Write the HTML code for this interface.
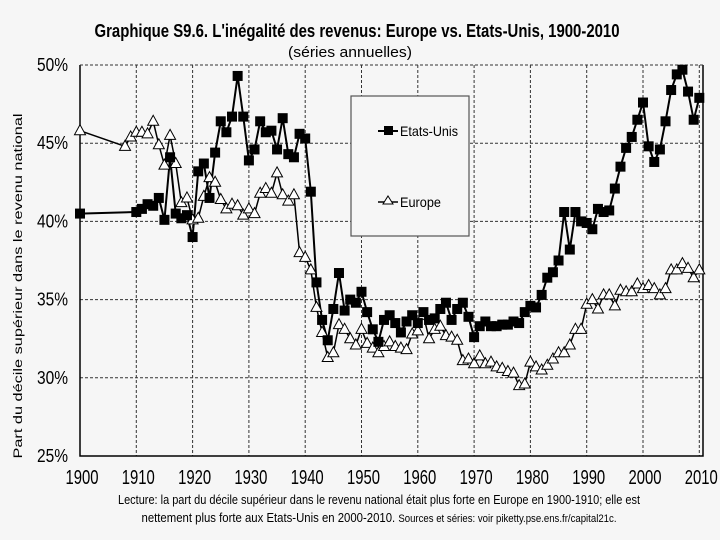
<!DOCTYPE html>
<html><head><meta charset="utf-8"><style>
html,body{margin:0;padding:0;background:#f6f6f6;}
svg{display:block;font-family:"Liberation Sans",sans-serif;}
</style></head><body>
<svg id="chart" width="720" height="540" viewBox="0 0 720 540">
<rect x="0" y="0" width="720" height="540" fill="#f6f6f6"/>
<text x="357" y="37" text-anchor="middle" font-weight="bold" font-size="18" textLength="525" lengthAdjust="spacingAndGlyphs">Graphique S9.6. L'inégalité des revenus: Europe vs. Etats-Unis, 1900-2010</text>
<text x="350" y="57" text-anchor="middle" font-size="15" textLength="124" lengthAdjust="spacingAndGlyphs">(séries annuelles)</text>
<text transform="translate(22,286) rotate(-90)" text-anchor="middle" font-size="11.5" textLength="345" lengthAdjust="spacingAndGlyphs">Part du décile supérieur dans le revenu national</text>
<g id="grid"></g>
<g id="axes"></g>
<g id="series"></g>
<g>
<rect x="351" y="96" width="118" height="140" fill="#f6f6f6" stroke="#555" stroke-width="1.2"/>
<g>
<line x1="378" y1="131" x2="398" y2="131" stroke="#000" stroke-width="2"/>
<rect x="384" y="126" width="9" height="9" fill="#000"/>
<text x="400" y="136" font-size="14" textLength="58" lengthAdjust="spacingAndGlyphs">Etats-Unis</text>
</g>
<g>
<line x1="378" y1="202" x2="398" y2="202" stroke="#000" stroke-width="1.5"/>
<polygon points="388,196 393,204 383,204" fill="#fff" stroke="#000" stroke-width="1"/>
<text x="400" y="207" font-size="14" textLength="41" lengthAdjust="spacingAndGlyphs">Europe</text>
</g>
</g>
<text x="379" y="504" text-anchor="middle" font-size="13" textLength="522" lengthAdjust="spacingAndGlyphs">Lecture: la part du décile supérieur dans le revenu national était plus forte en Europe en 1900-1910; elle est</text>
<text x="379" y="522" text-anchor="middle" font-size="13" textLength="475" lengthAdjust="spacingAndGlyphs">nettement plus forte aux Etats-Unis en 2000-2010. <tspan font-size="11">Sources et séries: voir piketty.pse.ens.fr/capital21c.</tspan></text>
</svg>
<script>
const usYears = [1900,1910,1911,1912,1913,1914,1915,1916,1917,1918,1919,1920,1921,1922,1923,1924,1925,1926,1927,1928,1929,1930,1931,1932,1933,1934,1935,1936,1937,1938,1939,1940,1941,1942,1943,1944,1945,1946,1947,1948,1949,1950,1951,1952,1953,1954,1955,1956,1957,1958,1959,1960,1961,1962,1963,1964,1965,1966,1967,1968,1969,1970,1971,1972,1973,1974,1975,1976,1977,1978,1979,1980,1981,1982,1983,1984,1985,1986,1987,1988,1989,1990,1991,1992,1993,1994,1995,1996,1997,1998,1999,2000,2001,2002,2003,2004,2005,2006,2007,2008,2009,2010];
const usValues = [40.5,40.6,40.8,41.1,41.0,41.5,40.1,44.1,40.5,40.2,40.4,39.0,43.2,43.7,41.5,44.4,46.4,45.7,46.7,49.3,46.7,43.9,44.6,46.4,45.7,45.8,44.6,46.6,44.3,44.1,45.6,45.3,41.9,36.1,33.7,32.4,34.4,36.7,34.3,35.0,34.8,35.5,34.2,33.1,32.3,33.7,34.0,33.5,32.9,33.6,34.0,33.5,34.2,33.7,33.8,34.4,34.8,33.7,34.4,34.8,33.9,32.6,33.3,33.6,33.3,33.3,33.4,33.4,33.6,33.5,34.2,34.6,34.5,35.3,36.4,36.75,37.5,40.6,38.2,40.6,40.0,39.9,39.5,40.8,40.6,40.7,42.1,43.5,44.7,45.4,46.5,47.6,44.8,43.8,44.6,46.4,48.4,49.4,49.7,48.3,46.5,47.9];
const euYears = [1900,1908,1909,1910,1911,1912,1913,1914,1915,1916,1917,1918,1919,1920,1921,1922,1923,1924,1925,1926,1927,1928,1929,1930,1931,1932,1933,1934,1935,1936,1937,1938,1939,1940,1941,1942,1943,1944,1945,1946,1947,1948,1949,1950,1951,1952,1953,1954,1955,1956,1957,1958,1959,1960,1961,1962,1963,1964,1965,1966,1967,1968,1969,1970,1971,1972,1973,1974,1975,1976,1977,1978,1979,1980,1981,1982,1983,1984,1985,1986,1987,1988,1989,1990,1991,1992,1993,1994,1995,1996,1997,1998,1999,2000,2001,2002,2003,2004,2005,2006,2007,2008,2009,2010];
const euValues = [45.8,44.8,45.4,45.7,45.7,45.6,46.4,44.9,43.6,45.5,43.7,41.2,41.5,40.1,40.2,41.6,42.8,42.5,41.4,40.8,41.1,41.0,40.4,40.8,40.5,41.8,42.1,41.8,43.1,41.7,41.3,41.7,38.0,37.7,36.9,34.5,32.9,31.3,31.6,33.4,33.1,32.5,32.1,33.1,32.2,31.9,31.6,32.0,32.3,32.0,31.9,31.8,32.8,33.0,34.0,32.5,33.1,33.3,32.7,32.6,32.4,31.1,31.2,30.9,31.4,30.9,31.0,30.7,30.6,30.4,30.3,29.5,29.6,31.0,30.7,30.5,30.8,31.2,31.6,31.6,32.1,33.1,33.1,34.7,35.0,34.4,35.3,35.3,34.6,35.6,35.5,35.5,36.0,35.7,35.9,35.7,35.3,35.7,36.9,36.9,37.3,37.0,36.4,36.9];
const xTicks = [1900,1910,1920,1930,1940,1950,1960,1970,1980,1990,2000,2010];
const yTicks = [25,30,35,40,45,50];

const NS="http://www.w3.org/2000/svg";
const L=80,R=703,T=65,B=456;
const x=y=>80+(y-1900)*5.63;
const yv=v=>T+(50-v)*(B-T)/25;
function mk(tag,attrs,parent){const e=document.createElementNS(NS,tag);for(const k in attrs)e.setAttribute(k,attrs[k]);parent.appendChild(e);return e;}
const grid=document.getElementById('grid'),axes=document.getElementById('axes'),series=document.getElementById('series');

yTicks.forEach(t=>{
  if(t>25){const g=mk('line',{x1:L,x2:R,y1:yv(t),y2:yv(t),stroke:'#333','stroke-width':1,'stroke-dasharray':'3,2'},grid);
  
  }
  const tx=mk('text',{x:68,y:yv(t)+6,'text-anchor':'end','font-size':18,textLength:31,lengthAdjust:'spacingAndGlyphs'},axes);
  tx.textContent=t+'%';
  
  
});
xTicks.forEach(t=>{
  if(t>1900){const g=mk('line',{x1:x(t),x2:x(t),y1:T,y2:B,stroke:'#333','stroke-width':1,'stroke-dasharray':'3,2'},grid);
  
  }
  const tx=mk('text',{x:x(t)+2,y:484,'text-anchor':'middle','font-size':20,textLength:33,lengthAdjust:'spacingAndGlyphs'},axes);
  tx.textContent=t;
  
  
});
const ax=mk('path',{d:`M${L},${T} V${B} H${R} V${T}`,fill:'none',stroke:'#000','stroke-width':1.5},axes);


const topl=mk('line',{x1:L,x2:R,y1:T,y2:T,stroke:'#333','stroke-width':1,'stroke-dasharray':'3,2'},axes);



const euLine=mk('polyline',{points:euYears.map((yr,i)=>x(yr)+','+yv(euValues[i])).join(' '),fill:'none',stroke:'#000','stroke-width':1.5},series);


const usLine=mk('polyline',{points:usYears.map((yr,i)=>x(yr)+','+yv(usValues[i])).join(' '),fill:'none',stroke:'#000','stroke-width':2},series);


euYears.forEach((yr,i)=>{
  const cx=x(yr),cy=yv(euValues[i]);
  const p=mk('polygon',{points:`${cx},${cy-6} ${cx+5.5},${cy+4} ${cx-5.5},${cy+4}`,fill:'#fff',stroke:'#000','stroke-width':1},series);
  
  
});
usYears.forEach((yr,i)=>{
  const cx=x(yr),cy=yv(usValues[i]);
  const r=mk('rect',{x:cx-5,y:cy-5,width:10,height:10,fill:'#000'},series);
  
  
});
</script>
</body></html>
